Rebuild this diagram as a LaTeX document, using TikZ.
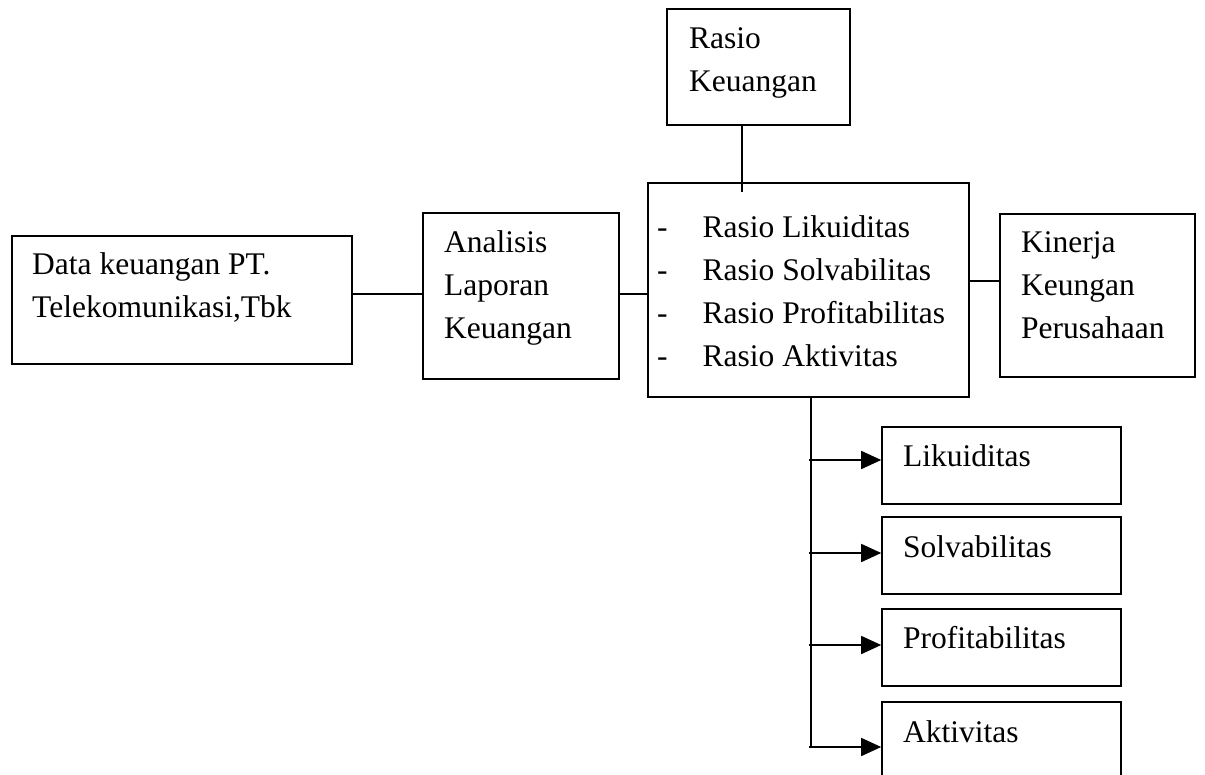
\documentclass[tikz,border=0pt]{standalone}
\usepackage{fontspec}
\setmainfont{Liberation Serif}
\usetikzlibrary{arrows.meta}
\newcommand{\boxlines}[1]{\begin{tabular}[t]{@{}l@{}}#1\end{tabular}}
\begin{document}
\begin{tikzpicture}[x=1pt,y=-1pt,
  box/.style={draw, line width=1.6pt, inner sep=0pt},
  txt/.style={anchor=base west, inner sep=0pt, font=\fontsize{31.5}{43}\selectfont},
  conn/.style={line width=1.6pt},
  arr/.style={line width=1.6pt, -{Triangle[length=20pt,width=18pt]}}]
\useasboundingbox (0,0) rectangle (1205,775);
\clip (0,0) rectangle (1205,775);
\fill[white] (0,0) rectangle (1205,775);
% boxes
\node[box, minimum width=340pt, minimum height=128pt] (D) at (182,300) {};
\node[box, minimum width=196pt, minimum height=166pt] (A) at (521,296) {};
\node[box, minimum width=321pt, minimum height=214pt] (C) at (808.5,290) {};
\node[box, minimum width=195pt, minimum height=163pt] (K) at (1097.5,295.5) {};
\node[box, minimum width=183pt, minimum height=116pt] (RK) at (758.5,67) {};
\node[box, minimum width=239pt, minimum height=77pt] (L) at (1001.5,465.5) {};
\node[box, minimum width=239pt, minimum height=77pt] (S) at (1001.5,555.5) {};
\node[box, minimum width=239pt, minimum height=77pt] (P) at (1001.5,647.5) {};
\node[box, minimum width=239pt, minimum height=77pt] (AK) at (1001.5,740.5) {};
% texts
\node[txt] (tD) at (32,275) {\boxlines{Data keuangan PT.\\Telekomunikasi,Tbk}};
\node[txt] (tA) at (444,253) {\boxlines{Analisis\\Laporan\\Keuangan}};
\node[txt] (tK) at (1021,253) {\boxlines{Kinerja\\Keungan\\Perusahaan}};
\node[txt] (tRK) at (689,49) {\boxlines{Rasio\\Keuangan}};
\node[txt] (tC) at (657,238) {\begin{tabular}[t]{@{}l@{\hspace{35pt}}l@{}}
-& Rasio Likuiditas\\
-& Rasio Solvabilitas\\
-& Rasio Profitabilitas\\
-& Rasio Aktivitas\end{tabular}};
\node[txt] (tL) at (903,467) {Likuiditas};
\node[txt] (tS) at (903,557) {Solvabilitas};
\node[txt] (tP) at (903,648) {Profitabilitas};
\node[txt] (tAK) at (903,742) {Aktivitas};
% connectors
\coordinate (yDA) at (0,294);
\coordinate (yCK) at (0,281);
\coordinate (xRK) at (742,192);
\coordinate (vend) at (811,747);
\draw[conn] (D.east |- yDA) -- (A.west |- yDA);
\draw[conn] (A.east |- yDA) -- (C.west |- yDA);
\draw[conn] (C.east |- yCK) -- (K.west |- yCK);
\draw[conn] (xRK |- RK.south) -- (xRK);
\draw[conn] (vend |- C.south) -- (vend);
\coordinate (a1) at (809,460);
\coordinate (a2) at (809,553);
\coordinate (a3) at (809,645);
\coordinate (a4) at (809,747);
\draw[arr] (a1) -- (a1 -| L.west);
\draw[arr] (a2) -- (a2 -| S.west);
\draw[arr] (a3) -- (a3 -| P.west);
\draw[arr] (a4) -- (a4 -| AK.west);
\end{tikzpicture}
\end{document}
